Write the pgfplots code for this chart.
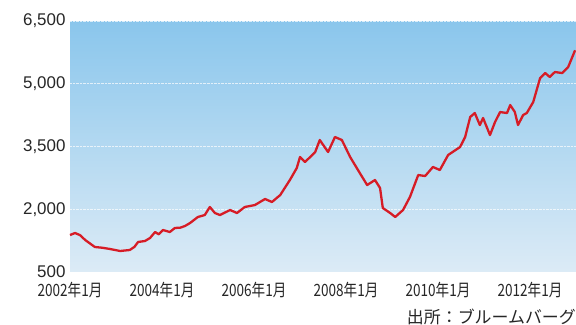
\documentclass[border=0pt]{standalone}
\usepackage{pgfplots}
\pgfplotsset{compat=1.18}
\usepackage{fontspec}
\setmainfont{Liberation Sans}
\newfontfamily\jp{Noto Sans CJK JP}
\newfontfamily\jpc[FakeStretch=0.8]{Noto Sans CJK JP}
\definecolor{linered}{RGB}{214,28,38}
\definecolor{bgtop}{RGB}{138,198,236}
\definecolor{bgbot}{RGB}{220,235,246}
\begin{document}
\begin{tikzpicture}
\useasboundingbox (0,0) rectangle (576bp,325bp);
\begin{axis}[
  at={(70bp,53bp)}, anchor=south west,
  scale only axis, width=506bp, height=251bp,
  xmin=2002, xmax=2013, ymin=500, ymax=6500,
  axis line style={draw=none},
  major tick length=0pt,
  xtick={2002,2004,2006,2008,2010,2012},
  xticklabels={2002年1月,2004年1月,2006年1月,2008年1月,2010年1月,2012年1月},
  xticklabel style={font=\jpc\fontsize{17}{17}\selectfont, text=black!85, yshift=-7bp},
  ytick={500,2000,3500,5000,6500},
  yticklabel style={font=\fontsize{17}{17}\selectfont, text=black!85, xshift=-1bp},
  /pgf/number format/assume math mode=true,
  /pgf/number format/1000 sep={,},
  scaled y ticks=false,
  ymajorgrids,
  grid style={white, densely dotted, line width=0.9pt, opacity=0.7},
  axis background/.style={top color=bgtop, bottom color=bgbot},
  clip=false,
]
\addplot[linered, line width=2.3pt, line join=round] coordinates {
(2002.00,1384) (2002.11,1432) (2002.22,1380) (2002.33,1265) (2002.54,1098) (2002.70,1080)
(2002.87,1050) (2003.09,1002) (2003.30,1026) (2003.40,1100) (2003.48,1217) (2003.63,1241)
(2003.74,1313) (2003.85,1456) (2003.93,1400) (2004.02,1504) (2004.17,1456) (2004.28,1552)
(2004.40,1560) (2004.50,1600) (2004.61,1671) (2004.78,1815) (2004.93,1862) (2005.04,2054)
(2005.15,1910) (2005.26,1862) (2005.48,1982) (2005.63,1910) (2005.80,2054) (2006.02,2101)
(2006.24,2245) (2006.39,2173) (2006.57,2340) (2006.78,2699) (2006.93,2986) (2007.00,3249)
(2007.11,3129) (2007.33,3368) (2007.43,3655) (2007.61,3368) (2007.76,3727) (2007.91,3655)
(2008.09,3249) (2008.30,2866) (2008.46,2579) (2008.63,2699) (2008.74,2508) (2008.80,2030)
(2008.96,1910) (2009.07,1815) (2009.24,1982) (2009.39,2293) (2009.57,2818) (2009.72,2794)
(2009.89,3010) (2010.04,2938) (2010.22,3296) (2010.48,3488) (2010.59,3727) (2010.70,4205)
(2010.80,4300) (2010.91,4013) (2010.98,4181) (2011.13,3774) (2011.24,4085) (2011.35,4324)
(2011.50,4300) (2011.57,4491) (2011.67,4324) (2011.74,4013) (2011.85,4252) (2011.93,4300)
(2012.07,4563) (2012.22,5137) (2012.33,5256) (2012.43,5161) (2012.54,5280) (2012.70,5256)
(2012.83,5400) (2012.98,5800)
};
\end{axis}
\node[anchor=south east, font=\jp\fontsize{17}{17}\selectfont, text=black!85, inner sep=0pt] at (576bp,0bp) {出所：ブルームバーグ};
\end{tikzpicture}
\end{document}
